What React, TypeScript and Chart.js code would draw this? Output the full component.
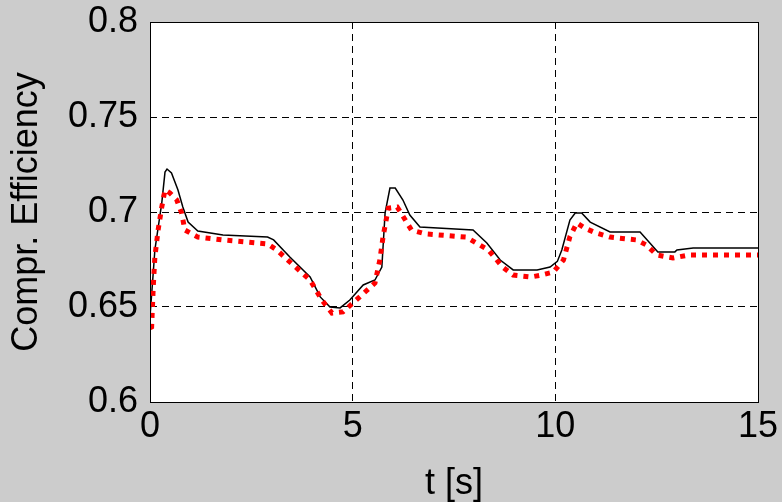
import React, { useEffect, useRef } from "react";
import { Chart, registerables } from "chart.js";

Chart.register(...registerables);

const xTicks = [0, 5, 10, 15];
const yTicks = [0.6, 0.65, 0.7, 0.75, 0.8];

const tBlack = [0, 0.08, 0.12, 0.29, 0.37, 0.42, 0.53, 0.69, 0.81, 0.94, 1.18, 1.8, 2.9, 3.05, 3.45, 3.95, 4.2, 4.44, 4.69, 4.93, 5.26, 5.55, 5.72, 5.8, 5.92, 6.05, 6.24, 6.41, 6.66, 7.97, 8.31, 8.64, 8.96, 9.55, 9.87, 10.05, 10.16, 10.36, 10.49, 10.65, 10.86, 11.35, 12.09, 12.53, 12.95, 13.0, 13.4, 15];
const effBlack = [0.645, 0.668, 0.68, 0.7047, 0.721, 0.7226, 0.7205, 0.7116, 0.7026, 0.6947, 0.69, 0.6879, 0.6868, 0.6853, 0.6763, 0.6658, 0.6553, 0.65, 0.6495, 0.6537, 0.6616, 0.6642, 0.671, 0.6995, 0.7126, 0.7126, 0.7063, 0.6984, 0.6921, 0.6905, 0.6837, 0.6747, 0.6695, 0.6695, 0.671, 0.674, 0.68, 0.6958, 0.6995, 0.6995, 0.6947, 0.6895, 0.6895, 0.679, 0.679, 0.68, 0.681, 0.681];

const tRed = [0, 0.04, 0.08, 0.12, 0.2, 0.29, 0.37, 0.49, 0.66, 0.78, 0.86, 1.18, 1.8, 2.9, 3.13, 3.45, 3.95, 4.24, 4.49, 4.76, 5.0, 5.55, 5.67, 5.75, 5.88, 6.1, 6.33, 6.45, 6.8, 7.8, 8.35, 8.7, 8.96, 9.4, 9.65, 9.95, 10.2, 10.36, 10.53, 10.72, 11.0, 11.35, 12.0, 12.25, 12.5, 12.9, 13.3, 15];
const effRed = [0.639, 0.6395, 0.6605, 0.6763, 0.6905, 0.7026, 0.7116, 0.71, 0.7063, 0.6995, 0.6905, 0.6868, 0.6853, 0.6832, 0.68, 0.6737, 0.6642, 0.6537, 0.6468, 0.6474, 0.652, 0.6626, 0.6747, 0.687, 0.702, 0.7026, 0.6947, 0.6905, 0.6885, 0.6868, 0.68, 0.671, 0.6668, 0.6658, 0.6668, 0.6684, 0.6747, 0.687, 0.6942, 0.6916, 0.689, 0.6868, 0.6853, 0.6826, 0.6774, 0.6758, 0.6774, 0.6774];

const FONT = "'Liberation Sans', Arial, sans-serif";

const framePlugin = {
  id: "frame",
  beforeDraw(chart: any) {
    const { ctx, chartArea: a } = chart;
    ctx.save();
    ctx.fillStyle = "#ffffff";
    ctx.fillRect(a.left, a.top, a.right - a.left, a.bottom - a.top);
    ctx.restore();
  },
  afterDraw(chart: any) {
    const { ctx, chartArea: a } = chart;
    ctx.save();
    ctx.strokeStyle = "#000000";
    ctx.lineWidth = 1;
    ctx.strokeRect(Math.round(a.left) + 0.5, Math.round(a.top) + 0.5, Math.round(a.right - a.left), Math.round(a.bottom - a.top));
    ctx.restore();
  },
};

export default function App() {
  const ref = useRef<HTMLCanvasElement | null>(null);
  useEffect(() => {
    if (!ref.current) return;
    const chart = new Chart(ref.current, {
      type: "line",
      data: {
        datasets: [
          {
            label: "red",
            data: tRed.map((t, i) => ({ x: t, y: effRed[i] })),
            borderColor: "#ff0000",
            borderWidth: 5,
            borderDash: [5, 6],
            borderCapStyle: "butt",
            pointRadius: 0,
            tension: 0,
            fill: false,
          },
          {
            label: "black",
            data: tBlack.map((t, i) => ({ x: t, y: effBlack[i] })),
            borderColor: "#000000",
            borderWidth: 1.5,
            pointRadius: 0,
            tension: 0,
            fill: false,
          },
        ],
      },
      options: {
        responsive: false,
        animation: false,
        layout: { padding: { top: 22, right: 24, left: 0, bottom: 0 } },
        plugins: { legend: { display: false }, tooltip: { enabled: false } },
        scales: {
          x: {
            type: "linear",
            min: 0,
            max: 15,
            afterBuildTicks: (s: any) => {
              s.ticks = xTicks.map((v) => ({ value: v }));
            },
            afterFit: (s: any) => {
              s.height = 100;
              s.paddingLeft = 0;
              s.paddingRight = 0;
            },
            grid: { color: "#000000", lineWidth: 1, drawTicks: false },
            border: { display: false, dash: [7, 5] },
            ticks: { color: "#000000", font: { family: FONT, size: 36 }, padding: 3, maxRotation: 0, autoSkip: false },
            title: { display: true, text: "t [s]", color: "#000000", font: { family: FONT, size: 36, lineHeight: 1 }, padding: { top: 0, bottom: 0 } },
          },
          y: {
            type: "linear",
            min: 0.6,
            max: 0.8,
            afterBuildTicks: (s: any) => {
              s.ticks = yTicks.map((v) => ({ value: v }));
            },
            afterFit: (s: any) => {
              s.width = 150;
              s.paddingTop = 0;
              s.paddingBottom = 0;
            },
            grid: { color: "#000000", lineWidth: 1, drawTicks: false },
            border: { display: false, dash: [7, 5] },
            ticks: {
              color: "#000000",
              font: { family: FONT, size: 36 },
              padding: 12,
              autoSkip: false,
              callback: (v: any) => String(Number(v)),
            },
            title: { display: true, text: "Compr. Efficiency", color: "#000000", font: { family: FONT, size: 36, lineHeight: 1 }, padding: { top: 9, bottom: 0 } },
          },
        },
      },
      plugins: [framePlugin],
    } as any);
    return () => chart.destroy();
  }, []);
  return (
    <div style={{ position: "fixed", left: 0, top: 0, width: 782, height: 502, background: "#cccccc" }}>
      <canvas ref={ref} width={782} height={502} style={{ display: "block" }} />
    </div>
  );
}
